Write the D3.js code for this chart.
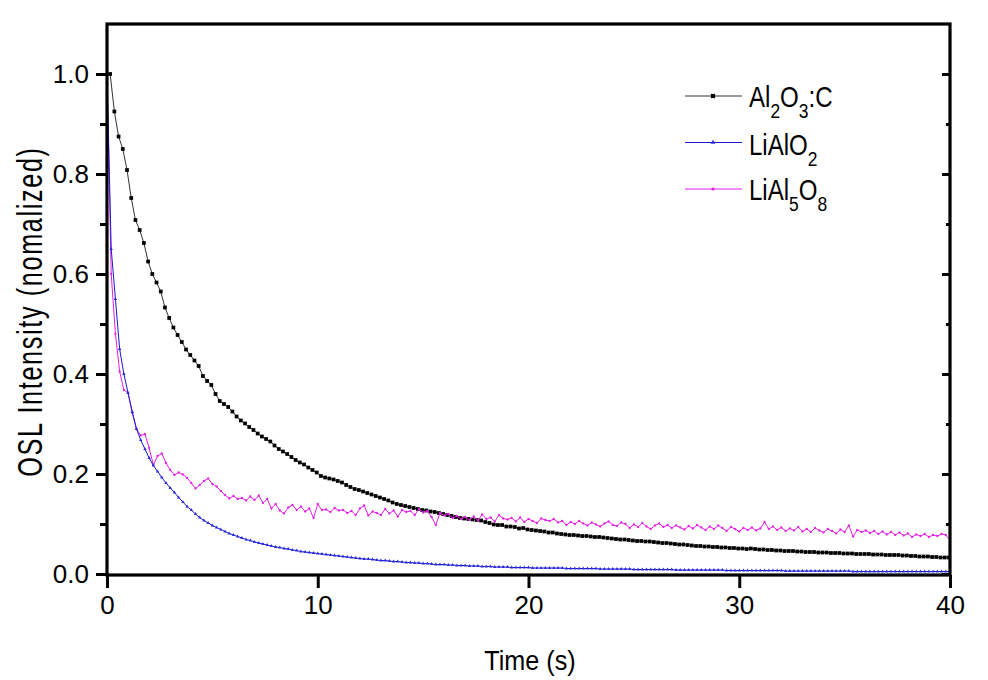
<!DOCTYPE html>
<html><head><meta charset="utf-8">
<script src="https://cdn.jsdelivr.net/npm/d3@7"></script>
<style>body{margin:0;background:#fff} text{font-family:Arial,"Liberation Sans",sans-serif;fill:#000}</style>
</head><body><svg id="c" width="988" height="680"></svg>
<script>
const xTicks = [0, 10, 20, 30, 40];
const yTicks = [0.0, 0.2, 0.4, 0.6, 0.8, 1.0];
const yMinorTicks = [0.1, 0.3, 0.5, 0.7, 0.9];
const xTitle = "Time (s)";
const yTitle = "OSL Intensity (nomalized)";
const dt = 0.2;
const al2o3Start = 0.15;
const lialo2Start = 0;
const lial5o8Start = 0;

// Al2O3:C (black squares)
const al2o3 = [
1.000,0.925,0.875,0.850,0.808,0.752,0.708,0.688,0.662,0.625,
0.600,0.583,0.565,0.533,0.512,0.493,0.478,0.464,0.449,0.438,
0.427,0.416,0.396,0.386,0.378,0.360,0.346,0.340,0.334,0.325,
0.315,0.307,0.301,0.294,0.288,0.281,0.275,0.270,0.265,0.257,
0.250,0.245,0.240,0.234,0.228,0.223,0.219,0.213,0.208,0.203,
0.196,0.193,0.191,0.189,0.186,0.183,0.178,0.174,0.170,0.168,
0.165,0.162,0.159,0.156,0.153,0.150,0.147,0.143,0.140,0.138,
0.136,0.134,0.132,0.130,0.128,0.127,0.125,0.124,0.122,0.120,
0.118,0.116,0.114,0.112,0.111,0.110,0.109,0.108,0.107,0.104,
0.102,0.099,0.098,0.098,0.095,0.095,0.094,0.091,0.092,0.089,
0.088,0.087,0.086,0.085,0.083,0.083,0.081,0.080,0.079,0.078,
0.078,0.077,0.076,0.076,0.075,0.074,0.074,0.073,0.072,0.071,
0.070,0.069,0.069,0.068,0.067,0.066,0.066,0.065,0.065,0.064,
0.063,0.062,0.062,0.061,0.060,0.059,0.059,0.058,0.057,0.056,
0.056,0.055,0.055,0.054,0.054,0.053,0.053,0.052,0.052,0.051,
0.051,0.050,0.051,0.050,0.049,0.049,0.048,0.048,0.047,0.047,
0.046,0.046,0.046,0.045,0.045,0.044,0.044,0.044,0.043,0.043,
0.043,0.042,0.042,0.042,0.041,0.041,0.041,0.040,0.040,0.040,
0.040,0.039,0.039,0.039,0.038,0.038,0.038,0.038,0.037,0.037,
0.036,0.036,0.035,0.035,0.035,0.034,0.034,0.033,0.033,0.033
];

// LiAlO2 (blue)
const lialo2 = [
1.000,0.650,0.550,0.450,0.400,0.362,0.324,0.290,0.268,0.250,
0.232,0.217,0.205,0.193,0.182,0.172,0.163,0.153,0.144,0.135,
0.128,0.120,0.113,0.107,0.102,0.097,0.093,0.089,0.085,0.081,
0.078,0.075,0.072,0.069,0.067,0.064,0.062,0.060,0.058,0.056,
0.054,0.053,0.051,0.050,0.048,0.047,0.045,0.044,0.043,0.042,
0.041,0.040,0.039,0.038,0.037,0.036,0.035,0.034,0.033,0.032,
0.031,0.030,0.030,0.029,0.028,0.027,0.027,0.026,0.025,0.025,
0.024,0.023,0.023,0.022,0.022,0.021,0.021,0.020,0.019,0.019,
0.019,0.018,0.018,0.017,0.017,0.017,0.016,0.016,0.016,0.015,
0.015,0.015,0.014,0.014,0.014,0.014,0.013,0.013,0.013,0.013,
0.013,0.012,0.012,0.012,0.012,0.012,0.012,0.012,0.012,0.011,
0.011,0.011,0.011,0.011,0.011,0.011,0.011,0.010,0.010,0.010,
0.010,0.010,0.010,0.010,0.010,0.009,0.009,0.009,0.009,0.009,
0.009,0.009,0.009,0.009,0.009,0.008,0.008,0.008,0.008,0.008,
0.008,0.008,0.008,0.008,0.008,0.008,0.008,0.007,0.007,0.007,
0.007,0.007,0.007,0.007,0.007,0.007,0.007,0.007,0.007,0.007,
0.007,0.006,0.006,0.006,0.006,0.006,0.006,0.006,0.006,0.006,
0.006,0.006,0.006,0.006,0.006,0.006,0.006,0.005,0.005,0.005,
0.005,0.005,0.005,0.005,0.005,0.005,0.005,0.005,0.005,0.005,
0.005,0.005,0.005,0.005,0.005,0.005,0.005,0.005,0.005,0.005,
0.005
];

// LiAl5O8 (magenta)
const lial5o8 = [
1.000,0.600,0.480,0.405,0.368,0.362,0.322,0.290,0.277,0.280,
0.252,0.218,0.236,0.241,0.222,0.208,0.198,0.203,0.199,0.192,
0.182,0.171,0.178,0.186,0.191,0.180,0.175,0.166,0.158,0.151,
0.156,0.150,0.152,0.147,0.155,0.148,0.157,0.142,0.150,0.131,
0.140,0.127,0.121,0.133,0.138,0.128,0.135,0.125,0.131,0.112,
0.140,0.128,0.129,0.124,0.132,0.127,0.128,0.122,0.126,0.118,
0.131,0.137,0.117,0.125,0.122,0.118,0.130,0.121,0.127,0.115,
0.128,0.124,0.126,0.118,0.130,0.123,0.126,0.114,0.098,0.122,
0.117,0.120,0.112,0.116,0.110,0.114,0.108,0.115,0.107,0.119,
0.110,0.113,0.105,0.118,0.111,0.109,0.112,0.105,0.113,0.104,
0.110,0.106,0.102,0.111,0.108,0.106,0.110,0.103,0.106,0.098,
0.104,0.100,0.106,0.101,0.097,0.103,0.099,0.095,0.101,0.105,
0.098,0.096,0.103,0.100,0.092,0.099,0.094,0.102,0.095,0.090,
0.097,0.101,0.094,0.098,0.092,0.097,0.093,0.089,0.096,0.091,
0.098,0.093,0.088,0.095,0.090,0.097,0.092,0.086,0.094,0.090,
0.085,0.092,0.088,0.093,0.087,0.091,0.104,0.090,0.095,0.088,
0.093,0.086,0.091,0.087,0.094,0.085,0.090,0.084,0.092,0.087,
0.083,0.090,0.086,0.081,0.089,0.084,0.097,0.075,0.088,0.084,
0.087,0.082,0.086,0.080,0.085,0.079,0.084,0.078,0.083,0.077,
0.081,0.074,0.079,0.076,0.080,0.074,0.078,0.076,0.080,0.078,
0.067
];

const series = [
  {values:al2o3, start:al2o3Start, line:"#333", mark:"#000", symbol:d3.symbolSquare, size:14,
   label:[["Al",0],["2",1],["O",0],["3",1],[":C",0]]},
  {values:lialo2, start:lialo2Start, line:"#1a1acc", mark:"#2a2ae0", symbol:d3.symbolTriangle, size:5,
   label:[["LiAlO",0],["2",1]]},
  {values:lial5o8, start:lial5o8Start, line:"#e41ee4", mark:"#e41ee4", symbol:d3.symbolCircle, size:4,
   label:[["LiAl",0],["5",1],["O",0],["8",1]]}
];

const svg = d3.select("#c");
const x = d3.scaleLinear().domain([0, 40]).range([107, 950]);
const y = d3.scaleLinear().domain([0, 1.1]).range([574, 24]);
const FS = 26;

svg.append("defs").append("clipPath").attr("id","clip")
  .append("rect").attr("x",107).attr("y",24).attr("width",843).attr("height",551);

const plot = svg.append("g").attr("clip-path","url(#clip)");
const line = d3.line().x(d=>x(d[0])).y(d=>y(d[1]));

[0,2,1].forEach(i=>{
  const s = series[i];
  const pts = s.values.map((v,k)=>[s.start + k*dt, v]);
  plot.append("path").datum(pts).attr("d",line)
    .attr("fill","none").attr("stroke",s.line).attr("stroke-width",1);
  plot.selectAll(null).data(pts).enter().append("path")
    .attr("transform",d=>`translate(${x(d[0])},${y(d[1])})`)
    .attr("d",d3.symbol().type(s.symbol).size(s.size))
    .attr("fill",s.mark);
});

function styleAxis(g, sw){
  g.select(".domain").remove();
  g.selectAll(".tick line").attr("stroke","#000").attr("stroke-width",sw);
  g.selectAll("text").attr("font-size",FS).attr("fill","#000")
    .attr("font-family","Arial, 'Liberation Sans', sans-serif");
}
const yAxis = d3.axisLeft(y).tickValues(yTicks).tickFormat(d3.format(".1f")).tickSize(11).tickPadding(7);
svg.append("g").attr("transform","translate(107,0)").call(yAxis).call(g=>styleAxis(g,3));
svg.append("g").attr("transform","translate(107,0)")
  .call(d3.axisLeft(y).tickValues(yMinorTicks).tickFormat("").tickSize(7)).call(g=>styleAxis(g,3));
svg.append("g").attr("transform","translate(950,0)")
  .call(d3.axisLeft(y).tickValues(yTicks).tickFormat("").tickSize(8)).call(g=>styleAxis(g,3));
svg.append("g").attr("transform","translate(950,0)")
  .call(d3.axisLeft(y).tickValues(yMinorTicks).tickFormat("").tickSize(4)).call(g=>styleAxis(g,3));
const xAxis = d3.axisBottom(x).tickValues(xTicks).tickFormat(d3.format("d")).tickSize(13).tickPadding(8);
svg.append("g").attr("transform","translate(0,575)").call(xAxis).call(g=>styleAxis(g,3));

svg.append("rect").attr("x",107).attr("y",24).attr("width",843).attr("height",551)
  .attr("fill","none").attr("stroke","#000").attr("stroke-width",3.2);

// titles (condensed face emulated with horizontal scale)
svg.append("text").attr("transform","translate(42,311.5) rotate(-90) scale(0.72,1)")
  .attr("text-anchor","middle").attr("font-size",35).attr("letter-spacing",2.3).text(yTitle);
svg.append("text").attr("transform","translate(530,670) scale(0.9,1)").attr("text-anchor","middle")
  .attr("font-size",28).text(xTitle);

// legend
const legLineY = [96, 142.5, 189];
const legBaseY = [106.5, 155, 200];
series.forEach((s,i)=>{
  const g = svg.append("g");
  g.append("line").attr("x1",685).attr("x2",742).attr("y1",legLineY[i]).attr("y2",legLineY[i])
    .attr("stroke",s.line).attr("stroke-width",1);
  g.append("path").attr("transform",`translate(713,${legLineY[i]})`)
    .attr("d",d3.symbol().type(s.symbol).size(s.size+4)).attr("fill",s.mark);
  const t = g.append("text").attr("transform",`translate(749,${legBaseY[i]}) scale(0.83,1)`).attr("font-size",29);
  let prevSub = 0;
  s.label.forEach(([str,sub])=>{
    const dy = sub && !prevSub ? 11 : (!sub && prevSub ? -11 : 0);
    t.append("tspan").attr("dy",dy).attr("font-size",sub?21:29).text(str);
    prevSub = sub;
  });
});
</script></body></html>
